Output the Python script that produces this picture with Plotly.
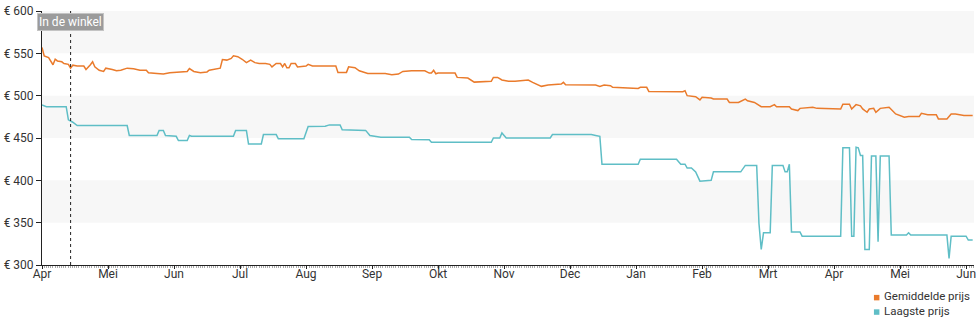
import calendar
import plotly.graph_objects as go

# Price history (daily points where the price changed)
avg_dates = [
    "2023-04-01", "2023-04-02", "2023-04-04", "2023-04-05", "2023-04-06", "2023-04-07",
    "2023-04-08", "2023-04-10", "2023-04-11", "2023-04-13", "2023-04-14", "2023-04-15",
    "2023-04-17", "2023-04-20", "2023-04-21", "2023-04-23", "2023-04-24", "2023-04-25",
    "2023-04-27", "2023-04-29", "2023-04-30", "2023-05-03", "2023-05-05", "2023-05-07",
    "2023-05-10", "2023-05-13", "2023-05-16", "2023-05-19", "2023-05-20", "2023-05-24",
    "2023-05-27", "2023-05-30", "2023-06-03", "2023-06-07", "2023-06-08", "2023-06-10",
    "2023-06-13", "2023-06-16", "2023-06-17", "2023-06-21", "2023-06-22", "2023-06-23",
    "2023-06-25", "2023-06-27", "2023-06-28", "2023-06-30", "2023-07-02", "2023-07-04",
    "2023-07-06", "2023-07-08", "2023-07-10", "2023-07-13", "2023-07-15", "2023-07-16",
    "2023-07-18", "2023-07-20", "2023-07-21", "2023-07-22", "2023-07-23", "2023-07-24",
    "2023-07-25", "2023-07-27", "2023-07-28", "2023-08-01", "2023-08-02", "2023-08-04",
    "2023-08-15", "2023-08-16", "2023-08-20", "2023-08-21", "2023-08-24", "2023-08-26",
    "2023-08-30", "2023-09-07", "2023-09-10", "2023-09-13", "2023-09-15", "2023-09-19",
    "2023-09-25", "2023-09-27", "2023-09-28", "2023-09-29", "2023-09-30", "2023-10-01",
    "2023-10-09", "2023-10-10", "2023-10-15", "2023-10-18", "2023-10-26", "2023-10-27",
    "2023-10-29", "2023-10-31", "2023-11-03", "2023-11-06", "2023-11-09", "2023-11-12",
    "2023-11-14", "2023-11-18", "2023-11-21", "2023-11-27", "2023-11-28", "2023-11-29",
    "2023-12-13", "2023-12-15", "2023-12-17", "2023-12-20", "2023-12-21", "2024-01-02",
    "2024-01-03", "2024-01-06", "2024-01-07", "2024-01-14", "2024-01-16", "2024-01-23",
    "2024-01-24", "2024-01-25", "2024-01-29", "2024-01-31", "2024-02-01", "2024-02-05",
    "2024-02-06", "2024-02-12", "2024-02-13", "2024-02-17", "2024-02-20", "2024-02-21",
    "2024-02-24", "2024-02-27", "2024-03-02", "2024-03-04", "2024-03-05", "2024-03-11",
    "2024-03-12", "2024-03-15", "2024-03-16", "2024-03-22", "2024-03-24", "2024-03-29",
    "2024-03-31", "2024-04-04", "2024-04-05", "2024-04-08", "2024-04-09", "2024-04-11",
    "2024-04-13", "2024-04-14", "2024-04-16", "2024-04-17", "2024-04-19", "2024-04-20",
    "2024-04-22", "2024-04-26", "2024-04-29", "2024-05-03", "2024-05-05", "2024-05-10",
    "2024-05-11", "2024-05-13", "2024-05-14", "2024-05-18", "2024-05-19", "2024-05-23",
    "2024-05-25", "2024-05-27", "2024-05-31", "2024-06-04",
]
avg_prices = [
    557, 547, 545, 541, 536.5, 543,
    541, 540, 538, 537, 532.5, 536,
    535, 535, 531, 536.5, 540, 534,
    530, 528.6, 532.5, 531, 529.4, 530,
    532.5, 531.8, 530, 530, 527, 526.3,
    525.5, 527, 528, 528.6, 532, 528.6,
    527, 528, 530, 532, 532.5, 542.7,
    542, 544, 547, 546, 543, 539,
    542, 539, 538, 538, 537, 534,
    538, 538, 534, 538, 533, 533,
    538, 538, 534, 535, 537, 535,
    535, 527.5, 527.5, 534, 533, 529.4,
    526.3, 526.3, 524.7, 525.5, 528.6, 529.4,
    529.4, 526.7, 526.7, 530, 525.9, 526.7,
    526.7, 521.6, 520.8, 516, 516.9, 521.6,
    521.6, 518.5, 517, 517, 517.6, 518.4,
    515.7, 511, 512.6, 513.7, 515.7, 513,
    512.6, 511, 512.6, 511.8, 509.8, 508.6,
    509.8, 509.8, 505, 505, 504.7, 504.7,
    505.9, 500, 498.8, 495, 498, 497.3,
    496, 496, 492, 492, 496, 494,
    492, 487, 487, 489.4, 487, 487,
    484.3, 482.4, 485, 486.3, 485, 485,
    484.3, 484.3, 490, 490, 484.3, 489.4,
    488, 484.3, 480.4, 484.3, 485, 480.4,
    485, 486.3, 478.4, 474.5, 475.3, 475.3,
    479.2, 478.4, 477.6, 477.6, 472.5, 472.5,
    478.4, 478.4, 476.5, 476.5,
]

low_dates = [
    "2023-04-01", "2023-04-03", "2023-04-12", "2023-04-13", "2023-04-15", "2023-04-17",
    "2023-05-10", "2023-05-11", "2023-05-24", "2023-05-25", "2023-05-27", "2023-05-28",
    "2023-06-02", "2023-06-03", "2023-06-07", "2023-06-08", "2023-06-09", "2023-06-28",
    "2023-06-29", "2023-07-04", "2023-07-05", "2023-07-11", "2023-07-12", "2023-07-18",
    "2023-07-19", "2023-07-31", "2023-08-02", "2023-08-10", "2023-08-12", "2023-08-17",
    "2023-08-18", "2023-08-29", "2023-08-31", "2023-09-05", "2023-09-18", "2023-09-19",
    "2023-09-27", "2023-09-28", "2023-10-26", "2023-10-27", "2023-10-30", "2023-10-31",
    "2023-11-02", "2023-11-22", "2023-11-23", "2023-12-11", "2023-12-13", "2023-12-15",
    "2023-12-16", "2024-01-02", "2024-01-03", "2024-01-20", "2024-01-22", "2024-01-24",
    "2024-01-25", "2024-01-27", "2024-01-29", "2024-01-31", "2024-02-05", "2024-02-06",
    "2024-02-18", "2024-02-20", "2024-02-25", "2024-02-26", "2024-02-27", "2024-02-28",
    "2024-03-02", "2024-03-03", "2024-03-08", "2024-03-09", "2024-03-10", "2024-03-11",
    "2024-03-12", "2024-03-16", "2024-03-17", "2024-04-04", "2024-04-05", "2024-04-08",
    "2024-04-09", "2024-04-10", "2024-04-11", "2024-04-12", "2024-04-13", "2024-04-14",
    "2024-04-15", "2024-04-17", "2024-04-18", "2024-04-20", "2024-04-21", "2024-04-22",
    "2024-04-26", "2024-04-27", "2024-05-04", "2024-05-05", "2024-05-06", "2024-05-23",
    "2024-05-24", "2024-05-25", "2024-06-01", "2024-06-02", "2024-06-04",
]
low_prices = [
    489, 487, 487, 471.4, 468.6, 464.7,
    464.7, 453, 453, 459, 459, 453,
    452, 447, 447, 453, 452, 452,
    459, 459, 443, 443, 454, 454,
    449, 449, 463.5, 464, 465.5, 465.5,
    459.6, 459, 453, 451, 451, 448.2,
    448, 445, 445, 450, 450, 456,
    450, 450, 454, 454, 453, 452,
    419, 419, 425, 425, 419, 419,
    414.5, 414.5, 410, 399, 400, 410,
    410, 417.6, 417.6, 349, 318.4, 338,
    338, 417.6, 417.6, 410, 410, 419,
    339, 339, 334, 334, 438.4, 438.4,
    334, 334, 439, 438.4, 429.4, 429.4,
    318.4, 318.4, 428.6, 428.6, 327.5, 428.6,
    428.6, 335.3, 335.3, 338, 335.3, 335.3,
    307.8, 334, 334, 329.4, 329.4,
]

month_labels = ["Apr", "Mei", "Jun", "Jul", "Aug", "Sep", "Okt", "Nov",
                "Dec", "Jan", "Feb", "Mrt", "Apr", "Mei", "Jun"]
price_ticks = [300, 350, 400, 450, 500, 550, 600]
store_date = "2023-04-14"

ORANGE = "#ea7b2c"
TEAL = "#5fbec6"


def month_pos(date_str):
    """Position on an axis where every month has the same width (0 = 1 Apr 2023)."""
    y, m, d = (int(p) for p in date_str.split("-"))
    days = calendar.monthrange(y, m)[1]
    return (y - 2023) * 12 + (m - 4) + (d - 1) / days


fig = go.Figure()

fig.add_trace(go.Scatter(
    x=[month_pos(d) for d in avg_dates], y=avg_prices, mode="lines",
    line=dict(color=ORANGE, width=1.5), name="Gemiddelde prijs", showlegend=False,
))
fig.add_trace(go.Scatter(
    x=[month_pos(d) for d in low_dates], y=low_prices, mode="lines",
    line=dict(color=TEAL, width=1.5), name="Laagste prijs", showlegend=False,
))

# Alternating background bands
for lo in (350, 450, 550):
    fig.add_shape(type="rect", xref="paper", x0=0, x1=1, yref="y", y0=lo, y1=lo + 50,
                  fillcolor="#f7f7f7", line_width=0, layer="below")

# Marker for the date the product appeared in stores
sx = month_pos(store_date)
fig.add_shape(type="line", xref="x", x0=sx, x1=sx, yref="y", y0=300, y1=600,
              line=dict(color="#222", width=1, dash="dot"))
fig.add_annotation(x=sx, y=587, xref="x", yref="y", text="In de winkel",
                   showarrow=False, font=dict(family="Roboto", size=12, color="white"),
                   bgcolor="#9b9b9b", bordercolor="#c4c4c4", borderwidth=1, borderpad=1)

# Legend drawn as colour squares with labels
legend_items = [("Gemiddelde prijs", ORANGE), ("Laagste prijs", TEAL)]
for i, (label, col) in enumerate(legend_items):
    cy = 296.5 + i * 14.5
    fig.add_shape(type="rect", xref="paper", yref="paper",
                  x0=(875.5 - 40) / 936, x1=(881 - 40) / 936,
                  y0=(265 - cy - 4) / 255, y1=(265 - cy + 1.5) / 255,
                  fillcolor=col, line_width=0)
    fig.add_annotation(xref="paper", yref="paper", x=(883.5 - 40) / 936,
                       y=(265 - cy) / 255, text=label, showarrow=False,
                       xanchor="left", yanchor="middle",
                       font=dict(family="Roboto", size=11.5, color="#333"))

fig.update_layout(
    width=980, height=325,
    margin=dict(l=40, r=4, t=10, b=60),
    paper_bgcolor="white", plot_bgcolor="white",
    font=dict(family="Roboto", size=12, color="#333"),
    showlegend=False,
    xaxis=dict(
        range=[0, 14.12], tickmode="array", tickvals=list(range(len(month_labels))),
        ticktext=month_labels, showgrid=False, zeroline=False,
        showline=True, linecolor="#222", linewidth=1,
        ticks="outside", ticklen=3, tickcolor="#222", ticklabelstandoff=-5,
        minor=dict(ticks="outside", ticklen=2, tickcolor="#aaa",
                   tickmode="linear", tick0=0, dtick=1 / 30.4),
        tickfont=dict(family="Roboto", size=12, color="#333"),
    ),
    yaxis=dict(
        range=[300, 600], tickvals=price_ticks,
        ticktext=[f"€ {v}" for v in price_ticks], showgrid=False, zeroline=False,
        showline=True, linecolor="#222", linewidth=1,
        ticks="outside", ticklen=5, tickcolor="#222",
        tickfont=dict(family="Roboto", size=12, color="#333"),
    ),
)

fig.write_html("out.html")
